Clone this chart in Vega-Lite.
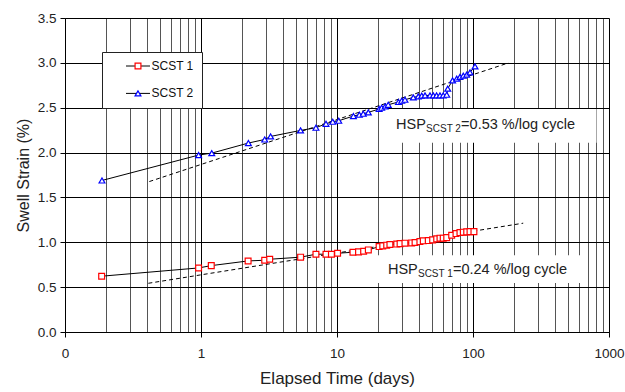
{
  "$schema": "https://vega.github.io/schema/vega-lite/v6.json",
  "width": 544,
  "height": 314,
  "autosize": {"type": "none"},
  "padding": {"left": 65, "top": 18, "right": 16, "bottom": 60},
  "background": "white",
  "config": {
    "font": "Liberation Sans",
    "view": {"stroke": null},
    "axis": {"labelFont": "Liberation Sans", "titleFont": "Liberation Sans", "labelColor": "#222", "titleColor": "#222", "titleFontWeight": "normal", "domainColor": "black", "tickColor": "black"}
  },
  "datasets": {
    "points": [
      {"series": "SCST 1", "t": 0.186, "v": 0.622},
      {"series": "SCST 1", "t": 0.96, "v": 0.714},
      {"series": "SCST 1", "t": 1.19, "v": 0.74},
      {"series": "SCST 1", "t": 2.22, "v": 0.792},
      {"series": "SCST 1", "t": 2.94, "v": 0.8},
      {"series": "SCST 1", "t": 3.2, "v": 0.811},
      {"series": "SCST 1", "t": 5.4, "v": 0.834},
      {"series": "SCST 1", "t": 7.0, "v": 0.867},
      {"series": "SCST 1", "t": 8.3, "v": 0.867},
      {"series": "SCST 1", "t": 9.1, "v": 0.867},
      {"series": "SCST 1", "t": 10.1, "v": 0.878},
      {"series": "SCST 1", "t": 13.1, "v": 0.889},
      {"series": "SCST 1", "t": 14.4, "v": 0.893},
      {"series": "SCST 1", "t": 15.7, "v": 0.9},
      {"series": "SCST 1", "t": 17.0, "v": 0.915},
      {"series": "SCST 1", "t": 20.4, "v": 0.952},
      {"series": "SCST 1", "t": 21.7, "v": 0.96},
      {"series": "SCST 1", "t": 23.2, "v": 0.968},
      {"series": "SCST 1", "t": 24.5, "v": 0.975},
      {"series": "SCST 1", "t": 27.5, "v": 0.98},
      {"series": "SCST 1", "t": 29.1, "v": 0.985},
      {"series": "SCST 1", "t": 31.6, "v": 0.99},
      {"series": "SCST 1", "t": 35.4, "v": 0.993},
      {"series": "SCST 1", "t": 37.5, "v": 0.997},
      {"series": "SCST 1", "t": 40.7, "v": 1.008},
      {"series": "SCST 1", "t": 43.1, "v": 1.016},
      {"series": "SCST 1", "t": 46.9, "v": 1.019},
      {"series": "SCST 1", "t": 50.5, "v": 1.027},
      {"series": "SCST 1", "t": 54.1, "v": 1.038},
      {"series": "SCST 1", "t": 57.2, "v": 1.046},
      {"series": "SCST 1", "t": 60.4, "v": 1.046},
      {"series": "SCST 1", "t": 64.1, "v": 1.052},
      {"series": "SCST 1", "t": 69.7, "v": 1.079},
      {"series": "SCST 1", "t": 75.0, "v": 1.097},
      {"series": "SCST 1", "t": 80.2, "v": 1.108},
      {"series": "SCST 1", "t": 84.9, "v": 1.113},
      {"series": "SCST 1", "t": 89.9, "v": 1.116},
      {"series": "SCST 1", "t": 95.1, "v": 1.119},
      {"series": "SCST 1", "t": 101.6, "v": 1.119},
      {"series": "SCST 2", "t": 0.187, "v": 1.689},
      {"series": "SCST 2", "t": 0.96, "v": 1.972},
      {"series": "SCST 2", "t": 1.2, "v": 1.994},
      {"series": "SCST 2", "t": 2.23, "v": 2.106},
      {"series": "SCST 2", "t": 2.94, "v": 2.146},
      {"series": "SCST 2", "t": 3.25, "v": 2.18},
      {"series": "SCST 2", "t": 5.4, "v": 2.247},
      {"series": "SCST 2", "t": 7.0, "v": 2.277},
      {"series": "SCST 2", "t": 8.3, "v": 2.321},
      {"series": "SCST 2", "t": 9.3, "v": 2.344},
      {"series": "SCST 2", "t": 10.3, "v": 2.355},
      {"series": "SCST 2", "t": 13.2, "v": 2.407},
      {"series": "SCST 2", "t": 14.6, "v": 2.422},
      {"series": "SCST 2", "t": 15.6, "v": 2.433},
      {"series": "SCST 2", "t": 17.0, "v": 2.448},
      {"series": "SCST 2", "t": 20.4, "v": 2.486},
      {"series": "SCST 2", "t": 21.3, "v": 2.5},
      {"series": "SCST 2", "t": 22.6, "v": 2.515},
      {"series": "SCST 2", "t": 23.8, "v": 2.533},
      {"series": "SCST 2", "t": 28.3, "v": 2.564},
      {"series": "SCST 2", "t": 29.9, "v": 2.578},
      {"series": "SCST 2", "t": 31.6, "v": 2.589},
      {"series": "SCST 2", "t": 36.4, "v": 2.615},
      {"series": "SCST 2", "t": 39.6, "v": 2.626},
      {"series": "SCST 2", "t": 42.0, "v": 2.634},
      {"series": "SCST 2", "t": 44.4, "v": 2.637},
      {"series": "SCST 2", "t": 48.3, "v": 2.637},
      {"series": "SCST 2", "t": 51.1, "v": 2.637},
      {"series": "SCST 2", "t": 54.0, "v": 2.637},
      {"series": "SCST 2", "t": 57.2, "v": 2.637},
      {"series": "SCST 2", "t": 60.4, "v": 2.637},
      {"series": "SCST 2", "t": 64.1, "v": 2.645},
      {"series": "SCST 2", "t": 65.2, "v": 2.712},
      {"series": "SCST 2", "t": 70.8, "v": 2.805},
      {"series": "SCST 2", "t": 75.9, "v": 2.824},
      {"series": "SCST 2", "t": 80.2, "v": 2.843},
      {"series": "SCST 2", "t": 84.9, "v": 2.857},
      {"series": "SCST 2", "t": 89.9, "v": 2.868},
      {"series": "SCST 2", "t": 95.1, "v": 2.894},
      {"series": "SCST 2", "t": 103.5, "v": 2.961}
    ],
    "fits": [
      {"fit": "SCST 1", "t": 0.41, "v": 0.543},
      {"fit": "SCST 1", "t": 234, "v": 1.213},
      {"fit": "SCST 2", "t": 0.417, "v": 1.677},
      {"fit": "SCST 2", "t": 182, "v": 2.999}
    ],
    "notes": [
      {"name": "SCST 1", "t0": 20, "t1": 679, "v0": 0.545, "v1": 0.855, "t": 23.7, "v": 0.647, "main": "HSP", "sub": "SCST 1", "rest": "=0.24 %/log cycle"},
      {"name": "SCST 2", "t0": 20.7, "t1": 809, "v0": 2.11, "v1": 2.485, "t": 27.2, "v": 2.26, "main": "HSP", "sub": "SCST 2", "rest": "=0.53 %/log cycle"}
    ]
  },
  "encoding": {
    "x": {
      "field": "t", "type": "quantitative",
      "scale": {"type": "log", "domain": [0.1, 1000], "nice": false},
      "axis": {
        "title": "Elapsed Time (days)",
        "titleFontSize": 17, "titlePadding": 11,
        "values": [0.1,0.2,0.3,0.4,0.5,0.6,0.7,0.8,0.9,1,2,3,4,5,6,7,8,9,10,20,30,40,50,60,70,80,90,100,200,300,400,500,600,700,800,900,1000],
        "labelExpr": "abs(log(datum.value)/LN10 - round(log(datum.value)/LN10)) < 0.001 ? (datum.value < 1 ? '0' : format(datum.value, 'd')) : ''",
        "labelOverlap": false, "labelFlush": false, "labelBound": false,
        "labelFontSize": 13.5, "labelPadding": 9,
        "grid": true,
        "gridColor": {"condition": {"test": "abs(log(datum.value)/LN10 - round(log(datum.value)/LN10)) < 0.001", "value": "black"}, "value": "#555"},
        "gridWidth": 1,
        "gridOpacity": 1,
        "tickSize": 5,
        "tickOpacity": {"condition": {"test": "abs(log(datum.value)/LN10 - round(log(datum.value)/LN10)) < 0.001", "value": 1}, "value": 0}
      }
    },
    "y": {
      "field": "v", "type": "quantitative",
      "scale": {"domain": [0, 3.5], "nice": false},
      "axis": {
        "title": "Swell Strain (%)",
        "titleFontSize": 16, "titlePadding": 6,
        "values": [0, 0.5, 1, 1.5, 2, 2.5, 3, 3.5],
        "format": ".1f",
        "labelFontSize": 13.5, "labelPadding": 4,
        "grid": true, "gridColor": "black", "gridOpacity": 1, "gridWidth": 1,
        "tickSize": 5
      }
    }
  },
  "layer": [
    {
      "data": {"name": "notes"},
      "mark": {"type": "rect", "fill": "white", "stroke": null},
      "encoding": {
        "x": {"field": "t0", "type": "quantitative"},
        "x2": {"field": "t1"},
        "y": {"field": "v0", "type": "quantitative"},
        "y2": {"field": "v1"}
      }
    },
    {
      "data": {"name": "fits"},
      "mark": {"type": "line", "color": "black", "strokeWidth": 1, "strokeDash": [4, 3]},
      "encoding": {"detail": {"field": "fit"}}
    },
    {
      "data": {"name": "points"},
      "mark": {"type": "line", "strokeWidth": 1},
      "encoding": {
        "color": {
          "field": "series", "type": "nominal",
          "scale": {"range": ["black", "black"]},
          "legend": {
            "title": null, "orient": "none", "legendX": 37, "legendY": 34,
            "padding": 8, "rowPadding": 15.4,
            "fillColor": "white", "strokeColor": "#222", "cornerRadius": 0,
            "symbolType": "M-3,0L3,0", "symbolSize": 64, "symbolStrokeWidth": 1,
            "symbolOffset": 22, "labelOffset": 7.5,
            "labelFont": "Liberation Sans", "labelFontSize": 12, "labelColor": "#111",
            "labelExpr": "datum.label + '\u00a0\u00a0\u00a0\u00a0\u00a0\u00a0'"
          }
        }
      }
    },
    {
      "data": {"name": "points"},
      "mark": {"type": "point", "filled": false, "fill": "white", "strokeWidth": 1.2, "size": 34, "opacity": 1},
      "encoding": {
        "stroke": {
          "field": "series", "type": "nominal",
          "scale": {"domain": ["SCST 1", "SCST 2"], "range": ["#ff0000", "#0000ff"]},
          "legend": {
            "title": null, "orient": "none", "legendX": 37, "legendY": 34,
            "padding": 8, "rowPadding": 15.4,
            "fillColor": null, "strokeColor": null,
            "symbolSize": 34, "symbolStrokeWidth": 1.2, "symbolFillColor": "white",
            "symbolOffset": 22, "labelOffset": 7.5,
            "labelFont": "Liberation Sans", "labelFontSize": 12, "labelOpacity": 0,
            "labelExpr": "datum.label + '\u00a0\u00a0\u00a0\u00a0\u00a0\u00a0'",
            "encode": {"symbols": {"update": {"fill": {"value": "white"}}}}
          }
        },
        "shape": {
          "field": "series", "type": "nominal",
          "scale": {"domain": ["SCST 1", "SCST 2"], "range": ["square", "triangle-up"]},
          "legend": {
            "title": null, "orient": "none", "legendX": 37, "legendY": 34,
            "padding": 8, "rowPadding": 15.4,
            "fillColor": null, "strokeColor": null,
            "symbolSize": 34, "symbolStrokeWidth": 1.2, "symbolFillColor": "white",
            "symbolOffset": 22, "labelOffset": 7.5,
            "labelFont": "Liberation Sans", "labelFontSize": 12, "labelOpacity": 0,
            "labelExpr": "datum.label + '\u00a0\u00a0\u00a0\u00a0\u00a0\u00a0'",
            "encode": {"symbols": {"update": {"fill": {"value": "white"}}}}
          }
        }
      }
    },
    {
      "data": {"name": "notes"},
      "mark": {"type": "text", "align": "left", "baseline": "alphabetic", "fontSize": 14.5, "color": "#222", "font": "Liberation Sans"},
      "encoding": {"text": {"field": "main"}}
    },
    {
      "data": {"name": "notes"},
      "mark": {"type": "text", "align": "left", "baseline": "alphabetic", "fontSize": 10, "dx": 30, "dy": 3, "color": "#222", "font": "Liberation Sans"},
      "encoding": {"text": {"field": "sub"}}
    },
    {
      "data": {"name": "notes"},
      "mark": {"type": "text", "align": "left", "baseline": "alphabetic", "fontSize": 14.5, "dx": 65, "color": "#222", "font": "Liberation Sans"},
      "encoding": {"text": {"field": "rest"}}
    }
  ]
}
